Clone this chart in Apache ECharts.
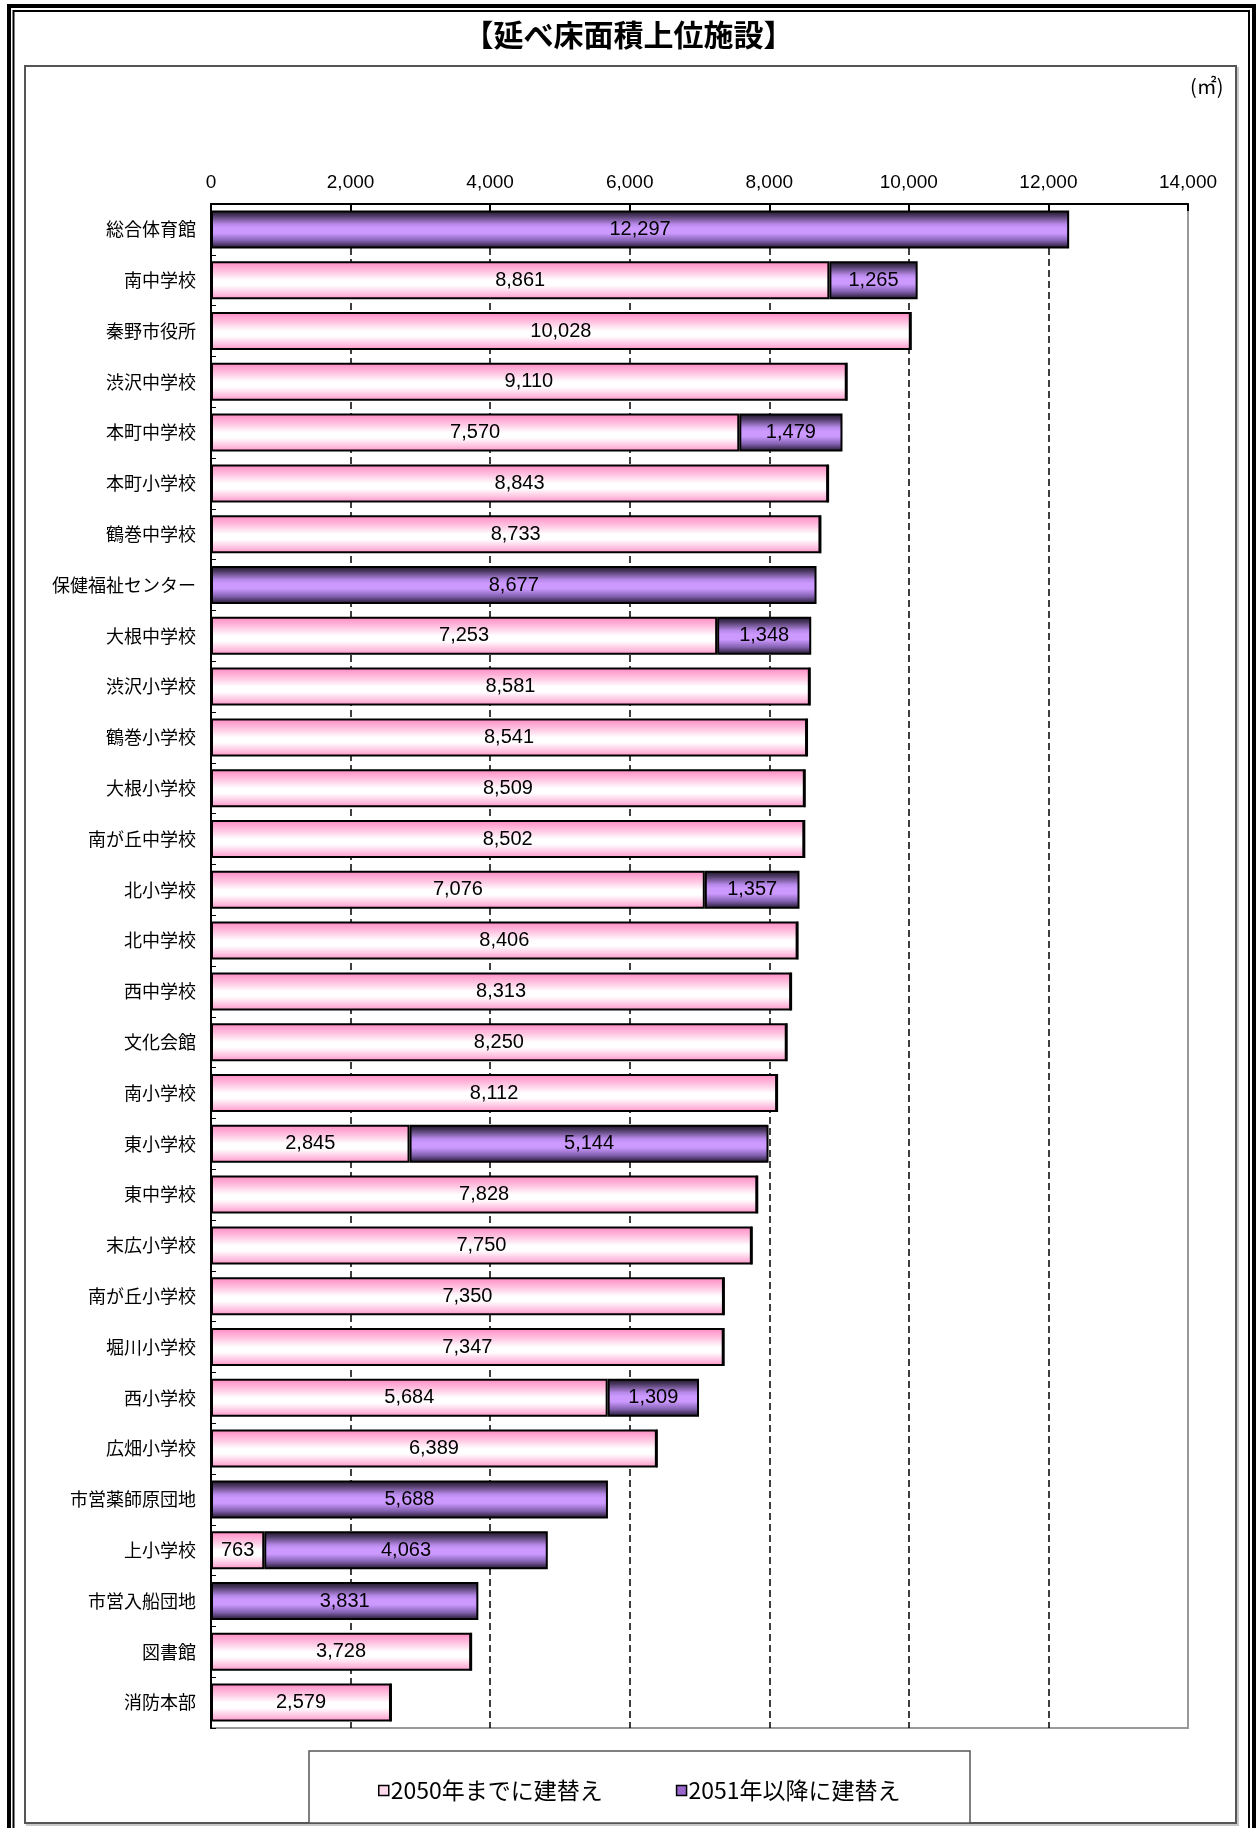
<!DOCTYPE html>
<html>
<head>
<meta charset="utf-8">
<script src="https://cdn.jsdelivr.net/npm/echarts@6/dist/echarts.min.js"></script>
<style>
html,body{margin:0;padding:0;background:#fff;}
#chart{width:1257px;height:1828px;}
</style>
</head>
<body>
<div id="chart"></div>
<script>
const categories = ['総合体育館','南中学校','秦野市役所','渋沢中学校','本町中学校','本町小学校','鶴巻中学校','保健福祉センター','大根中学校','渋沢小学校','鶴巻小学校','大根小学校','南が丘中学校','北小学校','北中学校','西中学校','文化会館','南小学校','東小学校','東中学校','末広小学校','南が丘小学校','堀川小学校','西小学校','広畑小学校','市営薬師原団地','上小学校','市営入船団地','図書館','消防本部'];
const before2050 = [0,8861,10028,9110,7570,8843,8733,0,7253,8581,8541,8509,8502,7076,8406,8313,8250,8112,2845,7828,7750,7350,7347,5684,6389,0,763,0,3728,2579];
const after2051 = [12297,1265,0,0,1479,0,0,8677,1348,0,0,0,0,1357,0,0,0,0,5144,0,0,0,0,1309,0,5688,4063,3831,0,0];
const seriesNames = ['2050年までに建替え','2051年以降に建替え'];
const titleText = '【延べ床面積上位施設】';
const unitText = '(㎡)';

const jp = '"Noto Sans CJK JP", "Noto Sans", sans-serif';
const num = '"Liberation Sans", Arial, sans-serif';

const pinkGrad = new echarts.graphic.LinearGradient(0,0,0,1,[
  {offset:0,color:'#ff88c2'},
  {offset:0.25,color:'#ffbfdf'},
  {offset:0.5,color:'#ffffff'},
  {offset:0.64,color:'#ffffff'},
  {offset:0.86,color:'#ffbfdf'},
  {offset:1,color:'#ff94c9'}
]);
const purpleGrad = new echarts.graphic.LinearGradient(0,0,0,1,[
  {offset:0,color:'#1a1222'},
  {offset:0.14,color:'#4d3a63'},
  {offset:0.36,color:'#b688e8'},
  {offset:0.46,color:'#cc99ff'},
  {offset:0.6,color:'#cc99ff'},
  {offset:0.8,color:'#8361b0'},
  {offset:1,color:'#1a1222'}
]);

const labelFmt = p => p.value ? p.value.toLocaleString('en-US') : '';

const chart = echarts.init(document.getElementById('chart'), null, {renderer:'canvas'});
chart.setOption({
  animation:false,
  backgroundColor:'#fff',
  title:{
    text:titleText, left:'center', top:15,
    textStyle:{fontFamily:jp, fontSize:30, fontWeight:'bold', color:'#000'}
  },
  graphic:[
    {type:'rect', silent:true, z:-10, shape:{x:9,y:6,width:1245,height:1900}, style:{fill:null, stroke:'#000', lineWidth:4}},
    {type:'rect', silent:true, z:-10, shape:{x:13.5,y:11,width:1235.5,height:1900}, style:{fill:null, stroke:'#000', lineWidth:2}},
    {type:'rect', silent:true, z:-9, shape:{x:27,y:68,width:1211,height:1757}, style:{fill:null, stroke:'#c8c8c8', lineWidth:2}},
    {type:'rect', silent:true, z:-8, shape:{x:25,y:66,width:1211,height:1757}, style:{fill:'#fff', stroke:'#555', lineWidth:2}},
    {type:'rect', silent:true, z:-7, shape:{x:309,y:1751,width:661,height:72}, style:{fill:'#fff', stroke:'#555', lineWidth:1.5}},
    {type:'text', silent:true, style:{x:1190, y:76, text:unitText, font:'20px ' + jp, fill:'#000'}}
  ],
  legend:{
    left:373, top:1774, itemWidth:10, itemHeight:10, itemGap:73, icon:'rect',
    textStyle:{fontFamily:jp, fontSize:23, color:'#000', padding:[0,0,0,-3]},
    data:[
      {name:seriesNames[0], itemStyle:{color:'#ffd9ec', borderColor:'#000', borderWidth:1.5}},
      {name:seriesNames[1], itemStyle:{color:'#9966cc', borderColor:'#000', borderWidth:1.5}}
    ]
  },
  grid:{left:211, top:204, width:977, height:1524, show:true, borderColor:'#999', borderWidth:2, backgroundColor:'#fff'},
  xAxis:{
    type:'value', position:'top', min:0, max:14000, interval:2000,
    axisLine:{show:true, lineStyle:{color:'#000', width:2}},
    axisTick:{show:true, inside:true, length:7, lineStyle:{color:'#000', width:2}},
    axisLabel:{fontFamily:num, fontSize:19, color:'#000', margin:12, formatter:v=>v.toLocaleString('en-US')},
    splitLine:{show:true, showMinLine:false, showMaxLine:false, lineStyle:{color:'#000', width:1.5, type:[7,4]}}
  },
  yAxis:{
    type:'category', inverse:true, data:categories,
    axisLine:{show:true, lineStyle:{color:'#000', width:2}},
    axisTick:{show:true, inside:true, length:5, lineStyle:{color:'#000', width:1}},
    axisLabel:{fontFamily:jp, fontSize:18, color:'#000', margin:15}
  },
  series:[
    {name:seriesNames[0], type:'bar', stack:'t', data:before2050, barWidth:38,
     itemStyle:{color:pinkGrad, borderColor:'#000', borderWidth:2},
     label:{show:true, position:'inside', fontFamily:num, fontSize:20, color:'#000', formatter:labelFmt}},
    {name:seriesNames[1], type:'bar', stack:'t', data:after2051, barWidth:38,
     itemStyle:{color:purpleGrad, borderColor:'#000', borderWidth:2},
     label:{show:true, position:'inside', fontFamily:num, fontSize:20, color:'#000', formatter:labelFmt}}
  ]
});
</script>
</body>
</html>
